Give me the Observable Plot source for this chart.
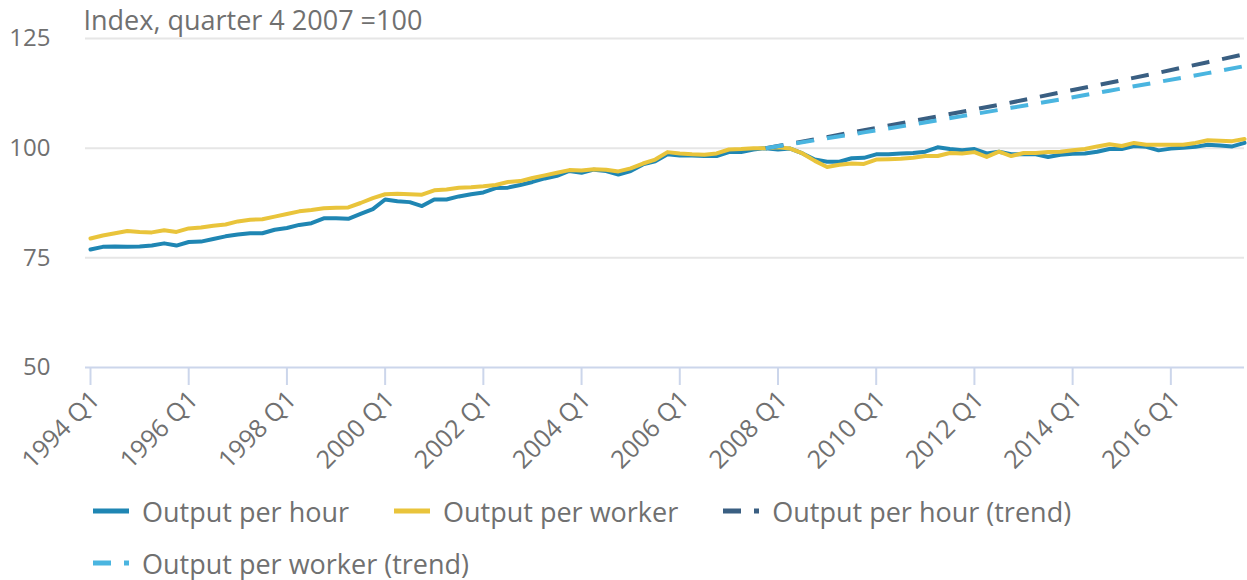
<!DOCTYPE html>
<html>
<head>
<meta charset="utf-8">
<script src="https://cdn.jsdelivr.net/npm/d3@7"></script>
<script src="https://cdn.jsdelivr.net/npm/@observablehq/plot@0.6"></script>
<style>
  html, body { margin: 0; padding: 0; background: #fff; }
  body { width: 1247px; height: 580px; overflow: hidden; font-family: "Open Sans", sans-serif; color: #707070; }
  #legend { display: flex; flex-wrap: wrap; column-gap: 45px; row-gap: 16px; padding: 33px 0 0 93px; width: 1100px; }
  .item { display: inline-flex; align-items: center; height: 36px; font-size: 27px; white-space: nowrap; }
  .item svg { margin-right: 13px; }
</style>
</head>
<body>
<div id="chart"></div>
<div id="legend"></div>
<script>
// ---- data ----
const years = d3.range(1994, 2018);
const quarterNames = ["Q1", "Q2", "Q3", "Q4"];
const quarters = years.flatMap(y => quarterNames.map(q => `${y} ${q}`)).slice(0, 95); // 1994 Q1 .. 2017 Q3

const outputPerHour = [
  76.9, 77.5, 77.6, 77.5, 77.6, 77.8, 78.3, 77.8, 78.6, 78.7,
  79.3, 79.9, 80.3, 80.6, 80.6, 81.4, 81.8, 82.5, 82.9, 84.0,
  84.0, 83.9, 85.0, 86.1, 88.3, 87.9, 87.7, 86.8, 88.3, 88.3,
  89.0, 89.5, 89.9, 90.9, 91.0, 91.6, 92.3, 93.1, 93.7, 94.8,
  94.4, 95.1, 94.8, 94.0, 94.8, 96.3, 97.0, 98.6, 98.3, 98.3,
  98.2, 98.2, 99.1, 99.1, 99.7, 100.0, 99.7, 99.9, 98.8, 97.4,
  96.9, 96.9, 97.7, 97.8, 98.6, 98.6, 98.8, 98.9, 99.2, 100.2,
  99.8, 99.5, 99.8, 98.8, 99.2, 98.6, 98.6, 98.6, 98.0, 98.5,
  98.7, 98.8, 99.2, 99.8, 99.8, 100.5, 100.3, 99.5, 99.9, 100.1,
  100.3, 100.8, 100.6, 100.4, 101.2
];

const outputPerWorker = [
  79.4, 80.1, 80.6, 81.1, 80.9, 80.8, 81.3, 80.9, 81.7, 81.9,
  82.3, 82.6, 83.3, 83.7, 83.8, 84.4, 85.0, 85.6, 85.9, 86.3,
  86.4, 86.5, 87.5, 88.6, 89.5, 89.6, 89.5, 89.4, 90.4, 90.6,
  91.0, 91.1, 91.3, 91.6, 92.3, 92.5, 93.2, 93.8, 94.4, 95.0,
  94.9, 95.2, 95.1, 94.7, 95.4, 96.5, 97.4, 99.1, 98.8, 98.6,
  98.5, 98.8, 99.7, 99.8, 100.0, 100.0, 100.2, 99.9, 98.8, 97.1,
  95.7, 96.2, 96.5, 96.4, 97.4, 97.5, 97.6, 97.8, 98.2, 98.2,
  98.9, 98.8, 99.1, 98.0, 99.2, 98.2, 98.9, 98.9, 99.1, 99.2,
  99.5, 99.8, 100.4, 100.9, 100.5, 101.2, 100.8, 100.8, 100.8, 100.8,
  101.2, 101.8, 101.7, 101.6, 102.1
];

const trendQuarters = ["2007 Q4", "2008 Q4", "2009 Q4", "2010 Q4", "2011 Q4", "2012 Q4",
                       "2013 Q4", "2014 Q4", "2015 Q4", "2016 Q4", "2017 Q3"];
const outputPerHourTrend   = [100, 102.0, 104.1, 106.2, 108.3, 110.4, 112.7, 114.9, 117.2, 119.6, 121.4];
const outputPerWorkerTrend = [100, 101.8, 103.6, 105.4, 107.3, 109.2, 111.1, 113.1, 115.1, 117.1, 118.7];

const xTickLabels = ["1994 Q1", "1996 Q1", "1998 Q1", "2000 Q1", "2002 Q1", "2004 Q1",
                     "2006 Q1", "2008 Q1", "2010 Q1", "2012 Q1", "2014 Q1", "2016 Q1"];
const yTicks = [50, 75, 100, 125];
const yGrid = [75, 100, 125];
const yLabel = "Index, quarter 4 2007 =100";

const seriesNames = ["Output per hour", "Output per worker", "Output per hour (trend)", "Output per worker (trend)"];
const seriesColors = ["#1f86b3", "#e9c43b", "#3a5f82", "#4ab5e0"];
const seriesDashed = [false, false, true, true];

// ---- tables ----
const hourRows = quarters.map((q, i) => ({q, v: outputPerHour[i]}));
const workerRows = quarters.map((q, i) => ({q, v: outputPerWorker[i]}));
const hourTrendRows = trendQuarters.map((q, i) => ({q, v: outputPerHourTrend[i]}));
const workerTrendRows = trendQuarters.map((q, i) => ({q, v: outputPerWorkerTrend[i]}));

const axisColor = "#ccd6eb";
const dash = "18,13";

const chart = Plot.plot({
  width: 1247,
  height: 460,
  marginLeft: 85,
  marginRight: 3,
  marginTop: 38,
  marginBottom: 93,
  style: {fontFamily: "Open Sans", fontSize: "24px", color: "#707070", background: "#fff", overflow: "visible"},
  x: {type: "point", domain: quarters, padding: 0, insetLeft: 5, round: false},
  y: {domain: [50, 125]},
  marks: [
    Plot.gridY(yGrid, {stroke: "#e6e6e6", strokeOpacity: 1, strokeWidth: 2}),
    Plot.ruleY([50], {stroke: axisColor, strokeWidth: 2}),
    Plot.axisY(yTicks, {tickSize: 0, tickPadding: 35, label: null, fill: "#707070"}),
    // tick marks
    Plot.axisX(xTickLabels, {tickSize: 18, stroke: axisColor, strokeWidth: 2, tickFormat: () => "", label: null}),
    // rotated tick labels
    Plot.axisX(xTickLabels, {tickSize: 0, tickPadding: 28, dx: 5, tickRotate: -45, fontSize: 25, label: null, fill: "#707070"}),
    Plot.text([yLabel], {frameAnchor: "top-left", dx: -2, dy: -17, lineAnchor: "middle", textAnchor: "start", fontSize: 27, fill: "#707070"}),
    Plot.line(hourRows, {x: "q", y: "v", stroke: seriesColors[0], strokeWidth: 4}),
    Plot.line(workerRows, {x: "q", y: "v", stroke: seriesColors[1], strokeWidth: 4}),
    Plot.line(hourTrendRows, {x: "q", y: "v", stroke: seriesColors[2], strokeWidth: 4, strokeDasharray: dash, strokeLinecap: "butt"}),
    Plot.line(workerTrendRows, {x: "q", y: "v", stroke: seriesColors[3], strokeWidth: 4, strokeDasharray: dash, strokeLinecap: "butt"})
  ]
});
document.getElementById("chart").appendChild(chart);

// ---- legend ----
const legend = document.getElementById("legend");
seriesNames.forEach((name, i) => {
  const item = document.createElement("div");
  item.className = "item";
  const dashAttr = seriesDashed[i] ? `stroke-dasharray="${dash}"` : "";
  item.innerHTML = `<svg width="36" height="10"><line x1="0" y1="5" x2="36" y2="5" stroke="${seriesColors[i]}" stroke-width="5" ${dashAttr}/></svg><span>${name}</span>`;
  legend.appendChild(item);
});
</script>
</body>
</html>
